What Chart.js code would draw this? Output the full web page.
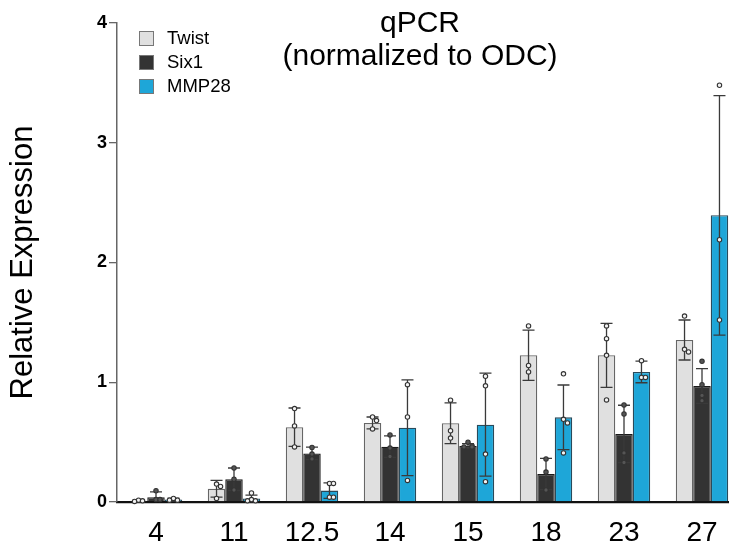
<!DOCTYPE html>
<html><head><meta charset="utf-8">
<script src="https://cdn.jsdelivr.net/npm/chart.js@4.4.1/dist/chart.umd.min.js"></script>
<style>
html,body{margin:0;padding:0;overflow:hidden;background:#fff;width:729px;height:546px}
#wrap{position:relative;width:745px;height:546px}
canvas{display:block}
</style>
</head><body><div id="wrap"><canvas id="c" width="745" height="546" style="width:745px;height:546px"></canvas></div>
<script>
// ---------- data ----------
const categories = ['4','11','12.5','14','15','18','23','27'];
const seriesNames = ['Twist','Six1','MMP28'];

const twistMean = [0.01, 0.11, 0.625, 0.66, 0.657, 1.225, 1.225, 1.353];
const twistSD   = [0.005, 0.07, 0.16, 0.05, 0.17, 0.21, 0.267, 0.167];
const twistPts  = [[0.015,0.005,0.01],[0.15,0.13,0.03],[0.78,0.635,0.46],[0.71,0.68,0.61],
                   [0.85,0.595,0.534],[1.47,1.14,1.086],[1.47,1.364,1.225,0.852],[1.553,1.275,1.253]];

const six1Mean = [0.04, 0.19, 0.406, 0.462, 0.468, 0.234, 0.568, 0.969];
const six1SD   = [0.045, 0.094, 0.052, 0.09, 0.02, 0.13, 0.24, 0.145];
const six1Pts  = [[0.094,0.02,0.02],[0.284,0.19,0.10],[0.455,0.40,0.36],[0.56,0.45,0.38],
                  [0.50,0.47,0.46,0.46],[0.36,0.25,0.10],[0.81,0.735,0.41,0.33],[1.175,0.98,0.89,0.846]];

const mmpMean = [0.02, 0.03, 0.095, 0.62, 0.646, 0.707, 1.086, 2.394];
const mmpSD   = [0.012, 0.028, 0.065, 0.40, 0.43, 0.27, 0.09, 1.0];
const mmpPts  = [[0.03,0.015,0.015],[0.075,0.02,0.01,0.01],[0.155,0.155,0.04,0.04],[0.98,0.71,0.18],
                 [1.05,0.97,0.40,0.17],[1.07,0.69,0.66,0.41],[1.18,1.04,1.04],[3.48,2.19,1.52]];

const yTicks = [0,1,2,3,4];
const titleLines = ['qPCR','(normalized to ODC)'];
const yTitle = 'Relative Expression';

// ---------- styles ----------
const FONT = '"Liberation Sans", Arial, Helvetica, sans-serif';
const fills = ['#e0e0e0', '#333333', '#1ea6d8'];
const borders = ['#666666', '#1a1a1a', '#2a4a5a'];
const sds = [twistSD, six1SD, mmpSD];
const pts = [twistPts, six1Pts, mmpPts];
const means = [twistMean, six1Mean, mmpMean];

const errorPlugin = {
  id: 'errs',
  afterDatasetsDraw(chart) {
    const ctx = chart.ctx, ys = chart.scales.y;
    ctx.save();
    chart.data.datasets.forEach((ds, di) => {
      const meta = chart.getDatasetMeta(di);
      meta.data.forEach((bar, j) => {
        const m = means[di][j], s = sds[di][j];
        const yTop = ys.getPixelForValue(m + s);
        const yBot = ys.getPixelForValue(Math.max(0, m - s));
        ctx.strokeStyle = '#3a3a3a';
        ctx.lineWidth = 1.3;
        ctx.beginPath();
        ctx.moveTo(bar.x, yTop); ctx.lineTo(bar.x, yBot);
        ctx.moveTo(bar.x - 6, yTop); ctx.lineTo(bar.x + 6, yTop);
        if (m - s > 0) { ctx.moveTo(bar.x - 6, yBot); ctx.lineTo(bar.x + 6, yBot); }
        ctx.stroke();
        // replicate points
        const list = pts[di][j].slice().sort((a,b)=>b-a);
        let prevY = null, side = 0;
        list.forEach(v => {
          const py = ys.getPixelForValue(v);
          let dx = 0;
          if (prevY !== null && Math.abs(py - prevY) < 4) { side = side === 0 ? 1 : 0; dx = side ? 4 : -4; }
          else side = 0;
          prevY = py;
          ctx.beginPath();
          ctx.arc(bar.x + dx, py, 2.2, 0, Math.PI * 2);
          ctx.fillStyle = di === 1 ? '#555' : '#f4f4f4';
          ctx.fill();
          ctx.strokeStyle = '#333';
          ctx.lineWidth = 1.1;
          ctx.stroke();
        });
      });
    });
    ctx.restore();
  }
};

const decoPlugin = {
  id: 'deco',
  afterDraw(chart) {
    const ctx = chart.ctx;
    ctx.save();
    // title
    ctx.fillStyle = '#000';
    ctx.textAlign = 'center';
    ctx.textBaseline = 'middle';
    ctx.font = '30px ' + FONT;
    ctx.fillText(titleLines[0], 420, 24);
    ctx.fillText(titleLines[1], 420, 57);
    // legend
    ctx.textAlign = 'left';
    ctx.font = '18.5px ' + FONT;
    chart.data.datasets.forEach((ds, i) => {
      const y = 31 + i * 24;
      ctx.fillStyle = ds.backgroundColor;
      ctx.fillRect(139, y, 15, 15);
      ctx.strokeStyle = '#777';
      ctx.lineWidth = 1;
      ctx.strokeRect(139.5, y + 0.5, 14, 14);
      ctx.fillStyle = '#000';
      ctx.fillText(ds.label, 167, y + 8);
    });
    ctx.restore();
  }
};

new Chart(document.getElementById('c'), {
  type: 'bar',
  data: {
    labels: categories,
    datasets: seriesNames.map((n, i) => ({
      label: n,
      data: means[i],
      backgroundColor: fills[i],
      borderColor: borders[i],
      borderWidth: 1.3,
      barPercentage: 1.0,
      categoryPercentage: 0.672
    }))
  },
  options: {
    responsive: false,
    animation: false,
    devicePixelRatio: 1,
    layout: { padding: { top: 23, right: 4, left: 0, bottom: 0 } },
    plugins: { legend: { display: false }, tooltip: { enabled: false }, title: { display: false } },
    scales: {
      x: {
        offset: true,
        grid: { display: false, drawTicks: false },
        border: { display: true, color: '#111', width: 2.2, dash: [2, 2.8] },
        ticks: { color: '#000', font: { family: FONT, size: 28 }, padding: 14, maxRotation: 0 },
        afterFit(s) { s.height = 44; }
      },
      y: {
        min: 0, max: 4,
        afterBuildTicks(s) { s.ticks = yTicks.map(v => ({ value: v })); },
        ticks: { color: '#000', font: { family: FONT, size: 18, weight: 'bold' }, padding: 2 },
        grid: { display: true, drawOnChartArea: false, drawTicks: true, tickLength: 8, color: '#666', lineWidth: 1.3 },
        border: { display: true, color: '#666', width: 1.5 },
        title: { display: true, text: yTitle, color: '#000', font: { family: FONT, size: 31 }, padding: { top: 5, bottom: 0 } },
        afterFit(s) { s.width = 117; }
      }
    }
  },
  plugins: [errorPlugin, decoPlugin]
});
</script>
</body></html>
